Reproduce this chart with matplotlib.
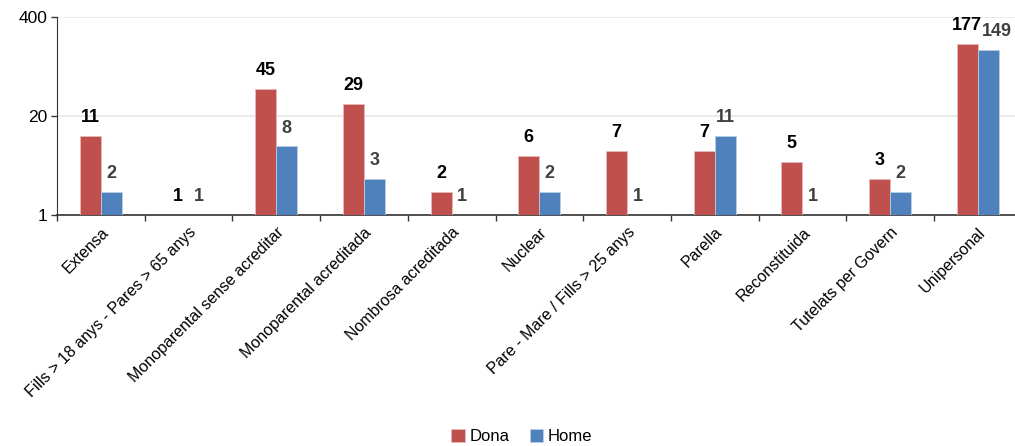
import numpy as np
import matplotlib
matplotlib.use("Agg")
import matplotlib.pyplot as plt
from matplotlib.ticker import FixedLocator, NullFormatter

plt.rcParams["font.family"] = ["Liberation Sans", "DejaVu Sans"]

# data
categories = [
    "Extensa",
    "Fills > 18 anys - Pares > 65 anys",
    "Monoparental sense acreditar",
    "Monoparental acreditada",
    "Nombrosa acreditada",
    "Nuclear",
    "Pare - Mare / Fills > 25 anys",
    "Parella",
    "Reconstituida",
    "Tutelats per Govern",
    "Unipersonal",
]
dona = [11, 1, 45, 29, 2, 6, 7, 7, 5, 3, 177]
home = [2, 1, 8, 3, 1, 2, 1, 11, 1, 2, 149]
yticks = [1, 20, 400]

c_dona = "#C0504D"
c_home = "#4F81BD"

W, H = 1015, 446
fig = plt.figure(figsize=(W / 100, H / 100), dpi=100)
ax = fig.add_axes([57 / W, 1 - 215 / H, (W - 57) / W, (215 - 17) / H])

x = np.arange(len(categories))
bw = 0.24
b1 = ax.bar(x - bw / 2, np.array(dona) - 1, bottom=1, width=bw, color=c_dona,
            edgecolor="#E6B9B8", linewidth=0.6, label="Dona", zorder=3)
b2 = ax.bar(x + bw / 2, np.array(home) - 1, bottom=1, width=bw, color=c_home,
            edgecolor="#B9CDE5", linewidth=0.6, label="Home", zorder=3)

ax.set_yscale("log")
ax.set_ylim(1, 400)
ax.set_xlim(-0.5, -0.5 + (W - 57) / 87.7)

# value labels
for xi, v in zip(x - bw / 2, dona):
    ax.annotate(str(v), (xi, v), xytext=(0, 7), textcoords="offset points",
                ha="center", va="bottom", fontsize=13, fontweight="bold",
                color="black")
for xi, v in zip(x + bw / 2, home):
    dx = 6 if v == 149 else 0
    ax.annotate(str(v), (xi, v), xytext=(dx, 7), textcoords="offset points",
                ha="center", va="bottom", fontsize=13, fontweight="bold",
                color="#404040")

# axes styling
ax.yaxis.set_major_locator(FixedLocator(yticks))
ax.yaxis.set_minor_locator(FixedLocator([]))
ax.set_yticklabels([str(t) for t in yticks], fontsize=12.5)
ax.yaxis.grid(True, color="#EBEBEB", linewidth=1.4, zorder=0)
ax.set_axisbelow(True)

ax.set_xticks(x)
ax.set_xticklabels(categories, rotation=45, ha="right", rotation_mode="anchor",
                   fontsize=11.5)
ax.xaxis.set_minor_locator(FixedLocator(np.arange(len(categories) + 1) - 0.5))
ax.xaxis.set_minor_formatter(NullFormatter())
ax.tick_params(axis="x", which="major", length=0, pad=7)
ax.tick_params(axis="x", which="minor", length=4, width=1, color="#333333")
ax.tick_params(axis="y", length=4, width=1, color="#333333", pad=3)

for s in ["top", "right"]:
    ax.spines[s].set_visible(False)
ax.spines["left"].set_color("#333333")
ax.spines["bottom"].set_color("#333333")
ax.spines["bottom"].set_linewidth(1.2)

fig.legend(handles=[b1, b2], loc="lower center", bbox_to_anchor=(522 / W, -0.03),
           ncol=2, frameon=False, fontsize=12, handlelength=0.8,
           handleheight=0.8, handletextpad=0.3, columnspacing=1.2)

fig.savefig("out.png", dpi=100)
